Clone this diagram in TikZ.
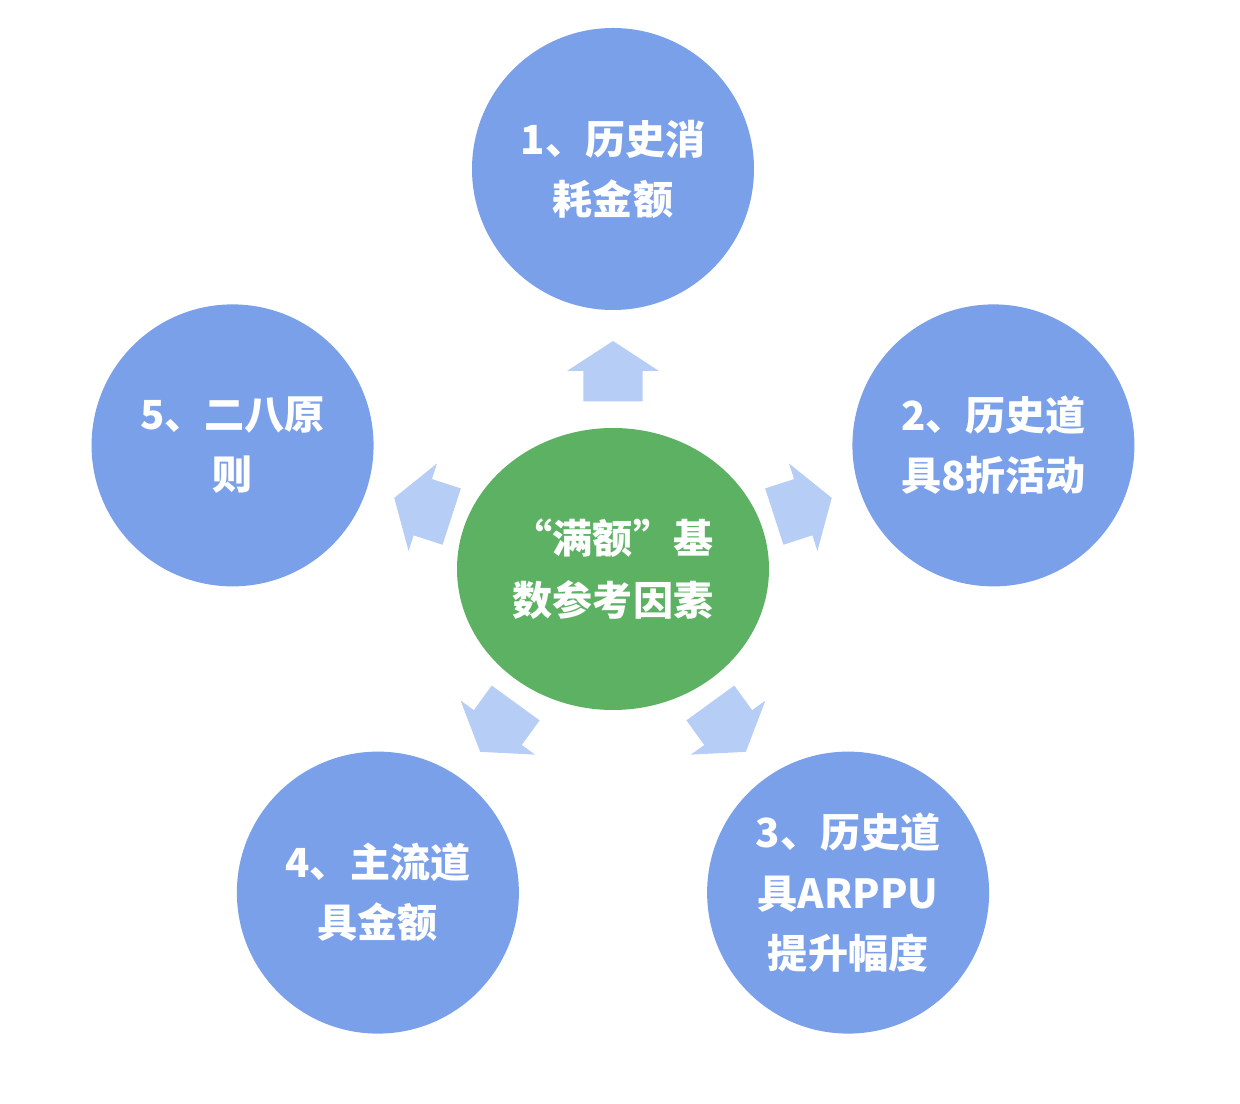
\documentclass[tikz,border=0pt]{standalone}
\usepackage{fontspec}
\newfontfamily\cjk{Noto Sans CJK SC}
\usepackage{tikz}
\usetikzlibrary{calc,shapes.geometric}

\definecolor{factorblue}{RGB}{122,160,234}
\definecolor{coregreen}{RGB}{92,177,99}
\definecolor{pushblue}{RGB}{182,205,245}

\tikzset{pics/push arrow/.style={code={
  \fill[pushblue] (-0.76,-0.74) -- (0,-0.74) -- (0,-1.15) -- (0.75,0) -- (0,1.15) -- (0,0.74) -- (-0.76,0.74) -- cycle;}}}

\begin{document}
\begin{tikzpicture}
 	\tikzstyle{factor}=[circle, minimum size = 7.05cm, inner sep=0pt, fill=factorblue, text=white, align=center, font=\cjk\bfseries\fontsize{28.5}{42.7}\selectfont]
 	\tikzstyle{core}=[ellipse, minimum width = 7.8cm, minimum height = 7.05cm, inner sep=0pt, fill=coregreen, text=white, align=center, font=\cjk\bfseries\fontsize{28.5}{44}\selectfont]
 	\useasboundingbox (-15.325,-13.375) rectangle (15.675,14.225);
 	\node[core] (center) at (0,0) {“满额”基\\数参考因素};
 	\node[factor] (f1) at (90:10cm) {1、历史消\\耗金额};
 	\node[factor] (f2) at (18:10cm) {2、历史道\\具8折活动};
 	\node[factor] (f3) at (-54:10cm) {3、历史道\\具ARPPU\\提升幅度};
 	\node[factor] (f4) at (-126:10cm) {4、主流道\\具金额};
 	\node[factor] (f5) at (162:10cm) {5、二八原\\则};
 	\pic[rotate=90] at ($(center)!0.495!(f1)$) {push arrow};
 	\pic[rotate=18] at ($(center)!0.5!(f2)$) {push arrow};
 	\pic[rotate=-54] at ($(center)!0.49!(f3)$) {push arrow};
 	\pic[rotate=-126] at ($(center)!0.49!(f4)$) {push arrow};
 	\pic[rotate=162] at ($(center)!0.5!(f5)$) {push arrow};
\end{tikzpicture}
\end{document}
